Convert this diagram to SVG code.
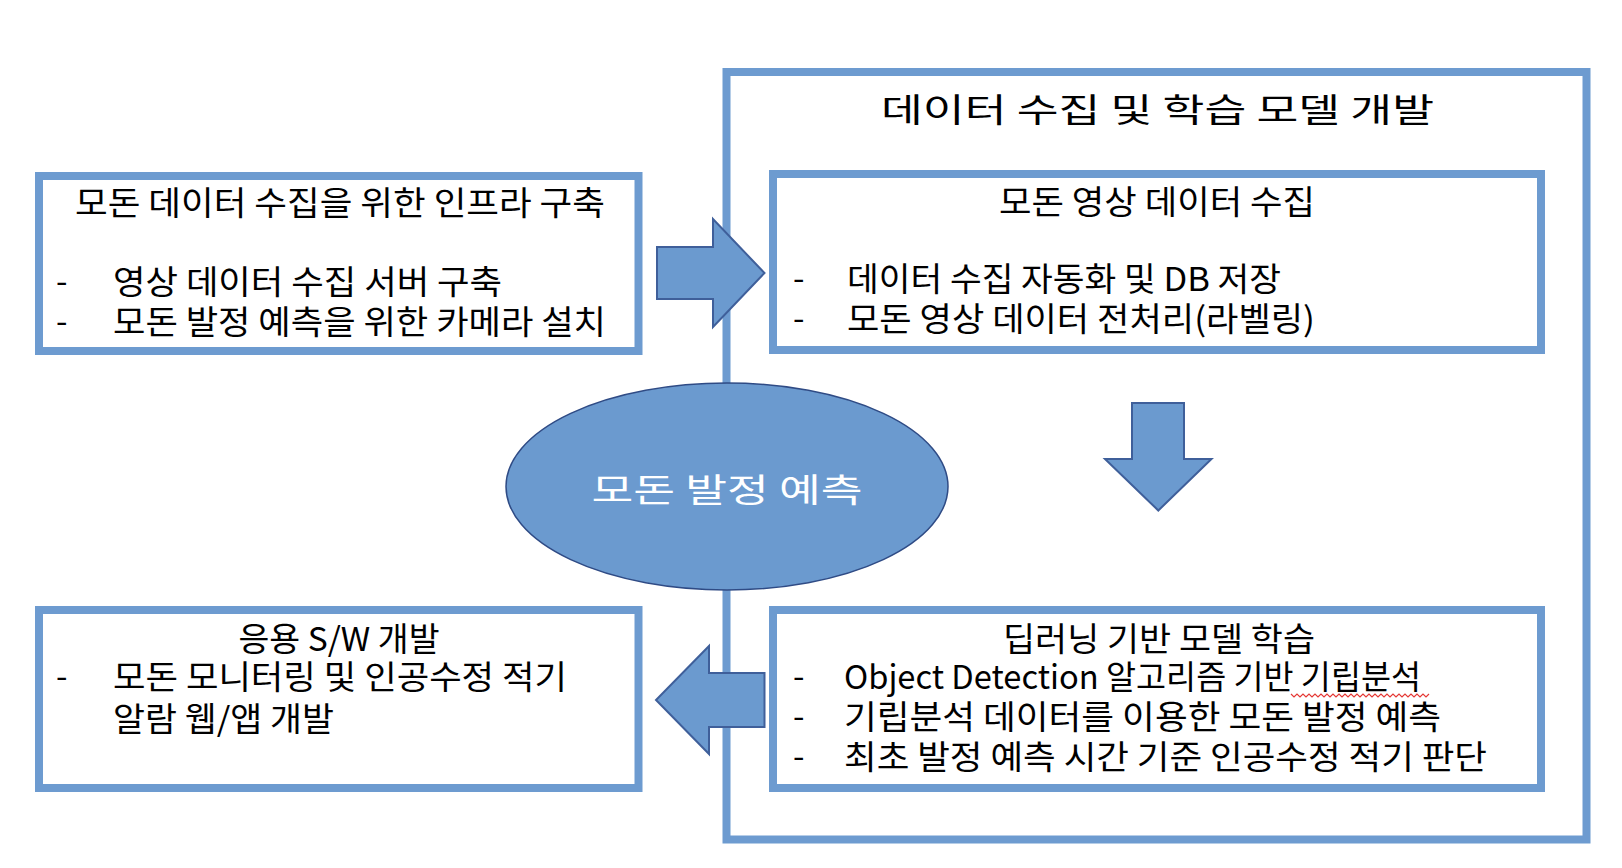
<svg xmlns="http://www.w3.org/2000/svg" width="1622" height="868" viewBox="0 0 1622 868">
<style>
.box{fill:#ffffff;stroke:#6D9BD0;stroke-width:8}
.t{font-family:"Noto Sans CJK KR","Noto Sans",sans-serif;fill:#000000;font-size:33px}
.c{text-anchor:middle}
.arrow{fill:#6B9ACF;stroke:#3F5F9A;stroke-width:2;stroke-linejoin:miter}
</style>
<rect width="1622" height="868" fill="#ffffff"/>
<g id="data-collection-group">
<rect class="box" x="726.5" y="72" width="860" height="767.5"/>
<text class="t c" x="1157.5" y="122" font-size="42" textLength="553" lengthAdjust="spacingAndGlyphs">데이터 수집 및 학습 모델 개발</text>
</g>
<g id="infra-box">
<rect class="box" x="39" y="176" width="599.5" height="175"/>
<text class="t c" x="340" y="215" textLength="530" lengthAdjust="spacingAndGlyphs">모돈 데이터 수집을 위한 인프라 구축</text>
<text class="t" x="56" y="293">-</text>
<text class="t" x="113" y="294" textLength="389" lengthAdjust="spacingAndGlyphs">영상 데이터 수집 서버 구축</text>
<text class="t" x="56" y="333">-</text>
<text class="t" x="113" y="334" textLength="493" lengthAdjust="spacingAndGlyphs">모돈 발정 예측을 위한 카메라 설치</text>
</g>
<g id="video-collection-box">
<rect class="box" x="773" y="174" width="768" height="176"/>
<text class="t c" x="1157" y="214" textLength="316" lengthAdjust="spacingAndGlyphs">모돈 영상 데이터 수집</text>
<text class="t" x="793" y="290">-</text>
<text class="t" x="847" y="291" textLength="434" lengthAdjust="spacingAndGlyphs">데이터 수집 자동화 및 DB 저장</text>
<text class="t" x="793" y="330">-</text>
<text class="t" x="847" y="331" textLength="468" lengthAdjust="spacingAndGlyphs">모돈 영상 데이터 전처리(라벨링)</text>
</g>
<g id="deep-learning-box">
<rect class="box" x="773" y="610" width="768" height="178"/>
<text class="t c" x="1159" y="651" textLength="312" lengthAdjust="spacingAndGlyphs">딥러닝 기반 모델 학습</text>
<text class="t" x="793" y="688">-</text>
<text class="t" x="844" y="689" textLength="577" lengthAdjust="spacingAndGlyphs">Object Detection 알고리즘 기반 기립분석</text>
<path d="M1291,694 l3,3 l3,-3 l3,3 l3,-3 l3,3 l3,-3 l3,3 l3,-3 l3,3 l3,-3 l3,3 l3,-3 l3,3 l3,-3 l3,3 l3,-3 l3,3 l3,-3 l3,3 l3,-3 l3,3 l3,-3 l3,3 l3,-3 l3,3 l3,-3 l3,3 l3,-3 l3,3 l3,-3 l3,3 l3,-3 l3,3 l3,-3 l3,3 l3,-3 l3,3 l3,-3 l3,3 l3,-3 l3,3 l3,-3 l3,3 l3,-3 l3,3 l3,-3" fill="none" stroke="#E53935" stroke-width="1.2"/>
<text class="t" x="793" y="728">-</text>
<text class="t" x="844" y="729" textLength="597" lengthAdjust="spacingAndGlyphs">기립분석 데이터를 이용한 모돈 발정 예측</text>
<text class="t" x="793" y="768">-</text>
<text class="t" x="844" y="769" textLength="643" lengthAdjust="spacingAndGlyphs">최초 발정 예측 시간 기준 인공수정 적기 판단</text>
</g>
<g id="app-box">
<rect class="box" x="39" y="610" width="599.5" height="178"/>
<text class="t c" x="339" y="651" textLength="201" lengthAdjust="spacingAndGlyphs">응용 S/W 개발</text>
<text class="t" x="56" y="688">-</text>
<text class="t" x="113" y="689" textLength="454" lengthAdjust="spacingAndGlyphs">모돈 모니터링 및 인공수정 적기</text>
<text class="t" x="113" y="731" textLength="221" lengthAdjust="spacingAndGlyphs">알람 웹/앱 개발</text>
</g>
<g id="estrus-prediction">
<ellipse cx="727" cy="486.5" rx="221" ry="103.5" fill="#6B9ACF" stroke="#2F4B85" stroke-width="1.5"/>
<text class="t c" x="727" y="502" font-size="41" fill="#ffffff" style="fill:#ffffff" textLength="271" lengthAdjust="spacingAndGlyphs">모돈 발정 예측</text>
</g>
<g id="connectors">
<polygon class="arrow" points="657,247 713,247 713,219 764.5,273 713,327 713,299 657,299"/>
<polygon class="arrow" points="1132,403 1184,403 1184,459 1211.5,459 1158.3,510.5 1105,459 1132,459"/>
<polygon class="arrow" points="764.5,673 709,673 709,646 656,700 709,754 709,727 764.5,727"/>
</g>
</svg>
